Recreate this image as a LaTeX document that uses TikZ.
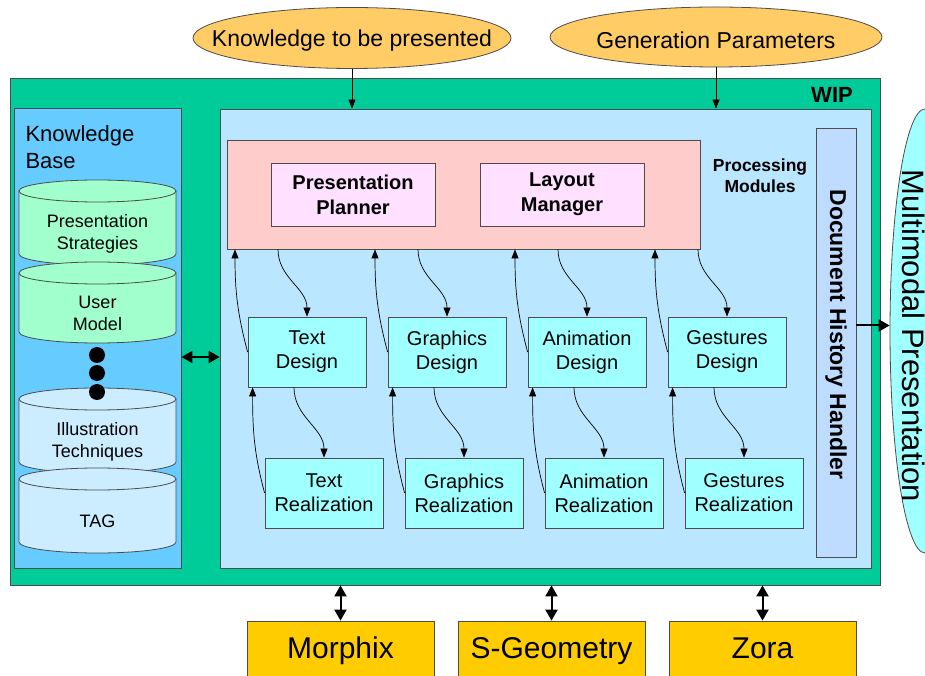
\documentclass[tikz,border=0pt]{standalone}
\usepackage{fontspec}
\setmainfont{Liberation Sans}
\usetikzlibrary{arrows.meta}
\usetikzlibrary{shapes.geometric}
\definecolor{wipgreen}{RGB}{0,204,153}
\definecolor{kbblue}{RGB}{102,204,255}
\definecolor{procblue}{RGB}{187,230,255}
\definecolor{planpink}{RGB}{255,204,204}
\definecolor{modpink}{RGB}{255,225,255}
\definecolor{designcyan}{RGB}{160,255,255}
\definecolor{dhhblue}{RGB}{190,220,255}
\definecolor{inputyellow}{RGB}{255,204,102}
\definecolor{toolyellow}{RGB}{255,204,0}
\definecolor{cylgreen}{RGB}{160,255,204}
\definecolor{cylblue}{RGB}{204,236,255}

\begin{document}
\begin{tikzpicture}[x=1pt,y=1pt,
	box/.style={draw=black!70,line width=0.8pt},
	module/.style={box,fill=designcyan,minimum width=118pt,minimum height=70pt,align=center,font=\fontsize{20}{24}\selectfont},
	planbox/.style={box,fill=modpink,minimum width=164pt,minimum height=63pt,align=center,font=\fontsize{20}{25}\selectfont\bfseries},
	inputell/.style={ellipse,box,fill=inputyellow,inner sep=0pt},
	inputtext/.style={font=\fontsize{23}{27}\selectfont,yshift=-3pt},
	toolbox/.style={box,fill=toolyellow,minimum width=187pt,minimum height=60pt,text height=22pt,text depth=7pt,font=\fontsize{30}{34}\selectfont},
	flow/.style={-{Triangle[length=9pt,width=7pt]},line width=0.7pt},
	link/.style={{Triangle[length=11pt,width=12pt]}-{Triangle[length=11pt,width=12pt]},line width=2pt},
	output/.style={-{Triangle[length=11pt,width=12pt]},line width=2pt}]
	\useasboundingbox (0,0) rectangle (925,675);
	\clip (0,0) rectangle (925,675);
	\node[box,fill=wipgreen,minimum width=870pt,minimum height=507pt] (wip) at (445,343.5) {};
	\node[font=\fontsize{22}{26}\selectfont\bfseries] (wiplabel) at (832,580) {WIP};
	\node[box,fill=kbblue,minimum width=167pt,minimum height=460pt] (kb) at (97.5,337) {};
	\node[anchor=north west,align=left,font=\fontsize{22}{27}\selectfont] (kbtitle) at (22,553) {Knowledge\\Base};
	\node[box,fill=procblue,minimum width=651pt,minimum height=459pt] (proc) at (545.5,336.5) {};
	\node[box,fill=planpink,minimum width=473pt,minimum height=109pt] (pink) at (463.5,480.5) {};
	\node[planbox] (planner) at (353,480.5) {Presentation\\Planner};
	\node[planbox] (layout) at (562,480.5) {Layout\\Manager};
	\node[align=center,font=\fontsize{17.5}{21}\selectfont\bfseries] (procmods) at (760,499) {Processing\\Modules};
	\node[box,fill=dhhblue,minimum width=40pt,minimum height=429pt] (dhh) at (836,332.5) {};
	\node[rotate=-90,font=\fontsize{23}{26}\selectfont\bfseries] (dhhlabel) at ([yshift=8pt]dhh.center) {Document History Handler};
	\foreach \top/\bot/\col/\nm/\txt in {495/410/cylgreen/strat/{Presentation\\Strategies},413/332/cylgreen/user/{User\\Model},287/202/cylblue/illu/{Illustration\\Techniques},207/122/cylblue/tag/{TAG}} {
		\filldraw[box,fill=\col] (19,\top-11) -- (19,\bot+11) arc[start angle=180,end angle=360,x radius=78.5,y radius=11] -- (176,\top-11) -- cycle;
		\filldraw[box,fill=\col] (97.5,\top-11) ellipse[x radius=78.5,y radius=11];
		\node[align=center,font=\fontsize{18}{22}\selectfont] (\nm) at (97.5,{(\top+\bot)/2-11}) {\txt};
	}
	\fill (97,320) circle[radius=8];
	\fill (97,302) circle[radius=8];
	\fill (97,283) circle[radius=8];
	\draw[link] ([yshift=-19pt]kb.east) -- ([yshift=-19pt]kb.east -| proc.west);
	\foreach \i/\nm/\lbl in {0/text/Text,1/graph/Graphics,2/anim/Animation,3/gest/Gestures} {
		\node[module] (\nm des) at (307+140*\i,323) {\lbl\\Design};
		\node[module] (\nm real) at (324+140*\i,182) {\lbl\\Realization};
		\draw[flow] ([xshift=-29pt]\nm des.north |- pink.south) to[out=-90,in=90] (\nm des.north);
		\draw[flow] (\nm des.west) to[out=105,in=-90] ([xshift=-72pt]\nm des.north |- pink.south);
		\draw[flow] ([xshift=-13pt]\nm des.south) to[out=-90,in=90] (\nm real.north);
		\draw[flow] (\nm real.west) to[out=105,in=-90] ([xshift=5pt]\nm des.south west);
	}
	\node[inputell,minimum width=318pt,minimum height=61pt] (knowledge) at (352,637) {};
	\node[inputtext] (knowledgelabel) at (knowledge) {Knowledge to be presented};
	\node[inputell,minimum width=332pt,minimum height=60pt] (genparams) at (716,638) {};
	\node[inputtext] (genlabel) at (genparams) {Generation Parameters};
	\draw[flow] (knowledge.south) -- (knowledge.south |- proc.north);
	\draw[flow] (genparams.south) -- (genparams.south |- proc.north);
	\node[toolbox] (morphix) at (340.5,24) {Morphix};
	\node[toolbox] (sgeom) at (551.5,24) {S-Geometry};
	\node[toolbox] (zora) at (762.5,24) {Zora};
	\draw[link] (morphix.north) -- (morphix.north |- wip.south);
	\draw[link] (sgeom.north) -- (sgeom.north |- wip.south);
	\draw[link] (zora.north) -- (zora.north |- wip.south);
	\node[ellipse,box,fill=designcyan,minimum width=70pt,minimum height=444pt] (mmp) at (925,344) {};
	\node[rotate=-90,anchor=base,font=\fontsize{31}{36}\selectfont] (mmplabel) at (902,339) {Multimodal Presentation};
	\draw[output] ([yshift=17pt]dhh.east) -- ([yshift=17pt]dhh.east -| mmp.west);
\end{tikzpicture}
\end{document}
